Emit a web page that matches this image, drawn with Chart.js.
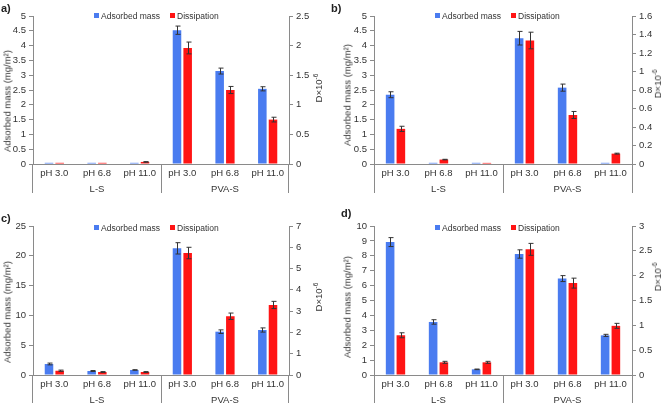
<!DOCTYPE html>
<html>
<head>
<meta charset="utf-8">
<script src="https://cdn.jsdelivr.net/npm/chart.js@4.4.1/dist/chart.umd.min.js"></script>
<style>
  body { margin: 0; background: #fff; font-family: "Liberation Sans", Arial, sans-serif; }
  #wrap { position: relative; width: 661px; height: 406px; overflow: hidden; }
  .panel { position: absolute; }
  .panel canvas { position: absolute; left: 0; top: 0; }
  .tag { position: absolute; font-weight: bold; font-size: 11px; color: #222; }
  .legend { position: absolute; font-size: 8.5px; color: #333; white-space: nowrap; }
  .legend span.sq { display: inline-block; width: 5px; height: 5px; margin-right: 2px; vertical-align: 1px; }
  .legend span.item { margin-right: 10px; }
  .vtitle { position: absolute; font-size: 9.5px; color: #333; transform: translate(-50%, -50%) rotate(-90deg); white-space: nowrap; }
</style>
</head>
<body>
<div id="wrap">
  <div class="panel" id="pa" style="left:0;top:0;width:330px;height:203px"><canvas id="ca" width="330" height="203"></canvas></div>
  <div class="panel" id="pb" style="left:330px;top:0;width:331px;height:203px"><canvas id="cb" width="331" height="203"></canvas></div>
  <div class="panel" id="pc" style="left:0;top:200px;width:330px;height:206px"><canvas id="cc" width="330" height="206"></canvas></div>
  <div class="panel" id="pd" style="left:330px;top:200px;width:331px;height:206px"><canvas id="cd" width="331" height="206"></canvas></div>
</div>
<script>
const categories = ['pH 3.0', 'pH 6.8', 'pH 11.0', 'pH 3.0', 'pH 6.8', 'pH 11.0']
const groups = ['L-S', 'PVA-S']
const seriesNames = ['Adsorbed mass', 'Dissipation']

// a)
const massA = [0.04, 0.04, 0.04, 4.52, 3.14, 2.54]
const massErrA = [0, 0, 0, 0.14, 0.1, 0.07]
const dissA = [0.02, 0.02, 0.035, 1.96, 1.25, 0.75]
const dissErrA = [0, 0, 0.005, 0.1, 0.06, 0.04]
// b)
const massB = [2.34, 0.04, 0.04, 4.25, 2.58, 0.04]
const massErrB = [0.1, 0, 0, 0.23, 0.12, 0]
const dissB = [0.38, 0.048, 0.012, 1.335, 0.53, 0.112]
const dissErrB = [0.028, 0.003, 0, 0.09, 0.038, 0.005]
// c)
const massC = [1.85, 0.67, 0.84, 21.25, 7.27, 7.55]
const massErrC = [0.15, 0.08, 0.05, 0.95, 0.3, 0.35]
const dissC = [0.2, 0.14, 0.14, 5.73, 2.76, 3.29]
const dissErrC = [0.03, 0.02, 0.02, 0.27, 0.15, 0.17]
// d)
const massD = [8.92, 3.56, 0.38, 8.12, 6.47, 2.66]
const massErrD = [0.3, 0.15, 0.02, 0.28, 0.2, 0.07]
const dissD = [0.8, 0.255, 0.255, 2.53, 1.85, 0.99]
const dissErrD = [0.05, 0.02, 0.02, 0.12, 0.1, 0.05]

const BLUE = '#4a7cf0'
const RED = '#ff1414'
const AXIS = '#8a8a8a'
const TEXT = '#333333'

Chart.defaults.font.family = '"Liberation Sans", Arial, sans-serif'
Chart.defaults.color = TEXT

// error bars, drawn from the scales
const errorBars = {
  id: 'errorBars',
  afterDatasetsDraw(chart) {
    const ctx = chart.ctx
    ctx.save()
    ctx.strokeStyle = '#333'
    ctx.lineWidth = 1
    chart.data.datasets.forEach((ds, di) => {
      const meta = chart.getDatasetMeta(di)
      const scale = chart.scales[ds.yAxisID]
      meta.data.forEach((bar, i) => {
        const err = ds.errors[i]
        if (!err) return
        const x = Math.round(bar.x) + 0.5
        const top = scale.getPixelForValue(ds.data[i] + err)
        const bot = scale.getPixelForValue(ds.data[i] - err)
        ctx.beginPath()
        ctx.moveTo(x, top); ctx.lineTo(x, bot)
        ctx.moveTo(x - 2, top); ctx.lineTo(x + 3, top)
        ctx.moveTo(x - 2, bot); ctx.lineTo(x + 3, bot)
        ctx.stroke()
      })
    })
    ctx.restore()
  }
}

const fmt = (v) => String(+v.toFixed(2))

function makePanel(id, mass, massErr, diss, dissErr, cfg) {
  return new Chart(document.getElementById(id), {
    type: 'bar',
    data: {
      labels: categories,
      datasets: [
        { label: seriesNames[0], data: mass, errors: massErr, backgroundColor: BLUE, yAxisID: 'y',
          categoryPercentage: 0.5, barPercentage: 0.8 },
        { label: seriesNames[1], data: diss, errors: dissErr, backgroundColor: RED, yAxisID: 'y2',
          categoryPercentage: 0.5, barPercentage: 0.8 }
      ]
    },
    options: {
      responsive: false,
      animation: false,
      devicePixelRatio: 1,
      layout: { padding: { left: cfg.padLeft, right: 0, top: cfg.top, bottom: 0 } },
      plugins: { legend: { display: false }, tooltip: { enabled: false } },
      scales: {
        x: {
          offset: true,
          grid: {
            offset: true, drawOnChartArea: false, tickLength: cfg.divLen, lineWidth: 1,
            color: (c) => (c.index === undefined || c.index % 3 === 0) ? AXIS : 'rgba(0,0,0,0)'
          },
          border: { color: AXIS },
          ticks: { font: { size: 9.5 }, padding: 4 - cfg.divLen, maxRotation: 0, autoSkip: false },
          afterFit(s) { s.height = 18 }
        },
        x2: {
          type: 'category', labels: groups, position: 'bottom', offset: true,
          grid: { display: false, drawTicks: false },
          border: { display: false },
          ticks: { font: { size: 9.5 }, padding: 2 },
          afterFit(s) { s.height = cfg.bottom - 18 }
        },
        y: {
          position: 'left', min: 0, max: cfg.y1max,
          ticks: { stepSize: cfg.y1step, font: { size: 9.5 }, padding: 3, callback: fmt },
          grid: { drawOnChartArea: false, tickLength: 4, color: AXIS },
          border: { color: AXIS },
          afterFit(s) { s.width = cfg.yWidth }
        },
        y2: {
          position: 'right', min: 0, max: cfg.y2max,
          ticks: { stepSize: cfg.y2step, font: { size: 9.5 }, padding: 3, callback: fmt },
          grid: { drawOnChartArea: false, tickLength: 4, color: AXIS },
          border: { color: AXIS },
          afterFit(s) { s.width = cfg.y2Width }
        }
      }
    },
    plugins: [errorBars]
  })
}

function addOverlay(panelId, tag, tagPos, legendPos, ltitlePos, rtitlePos) {
  const p = document.getElementById(panelId)
  const t = document.createElement('div')
  t.className = 'tag'
  t.style.left = tagPos[0] + 'px'; t.style.top = tagPos[1] + 'px'
  t.textContent = tag
  p.appendChild(t)
  const lg = document.createElement('div')
  lg.className = 'legend'
  lg.style.left = legendPos[0] + 'px'; lg.style.top = legendPos[1] + 'px'
  lg.innerHTML = `<span class="item"><span class="sq" style="background:${BLUE}"></span>${seriesNames[0]}</span>` +
    `<span><span class="sq" style="background:${RED}"></span>${seriesNames[1]}</span>`
  p.appendChild(lg)
  const lt = document.createElement('div')
  lt.className = 'vtitle'
  lt.style.left = ltitlePos[0] + 'px'; lt.style.top = ltitlePos[1] + 'px'
  lt.innerHTML = 'Adsorbed mass (mg/m²)'
  p.appendChild(lt)
  const rt = document.createElement('div')
  rt.className = 'vtitle'
  rt.style.left = rtitlePos[0] + 'px'; rt.style.top = rtitlePos[1] + 'px'
  rt.innerHTML = 'D×10<sup style="font-size:6.5px">-6</sup>'
  p.appendChild(rt)
}

makePanel('ca', massA, massErrA, dissA, dissErrA,
  { padLeft: 0, yWidth: 33, y2Width: 41, top: 16, bottom: 39, divLen: 29, y1max: 5, y1step: 0.5, y2max: 2.5, y2step: 0.5 })
makePanel('cb', massB, massErrB, dissB, dissErrB,
  { padLeft: 10, yWidth: 34, y2Width: 29, top: 16, bottom: 39, divLen: 29, y1max: 5, y1step: 0.5, y2max: 1.6, y2step: 0.2 })
makePanel('cc', massC, massErrC, dissC, dissErrC,
  { padLeft: 0, yWidth: 33, y2Width: 41, top: 26, bottom: 31, divLen: 28, y1max: 25, y1step: 5, y2max: 7, y2step: 1 })
makePanel('cd', massD, massErrD, dissD, dissErrD,
  { padLeft: 10, yWidth: 34, y2Width: 29, top: 26, bottom: 31, divLen: 28, y1max: 10, y1step: 1, y2max: 3, y2step: 0.5 })

addOverlay('pa', 'a)', [1, 2], [94, 11], [7, 101], [318, 88])
addOverlay('pb', 'b)', [1, 2], [105, 11], [17, 95], [327, 84])
addOverlay('pc', 'c)', [1, 12], [94, 23], [7, 112], [318, 97])
addOverlay('pd', 'd)', [11, 7], [105, 23], [17, 107], [327, 77])
</script>
</body>
</html>
